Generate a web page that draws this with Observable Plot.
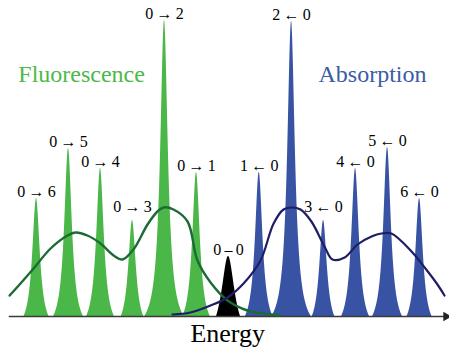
<!DOCTYPE html>
<html>
<head>
<meta charset="utf-8">
<script src="https://cdn.jsdelivr.net/npm/d3@7"></script>
<script src="https://cdn.jsdelivr.net/npm/@observablehq/plot@0.6"></script>
<style>
  body { margin: 0; background: #fff; }
  svg text { font-family: 'Liberation Serif', 'DejaVu Serif', serif; }
</style>
</head>
<body>
<div id="chart"></div>
<script>
// ---- data (energy in vibrational-spacing units, intensity arbitrary) ----
const fluorLabels    = ["0\u2009→\u20091", "0\u2009→\u20092", "0\u2009→\u20093", "0\u2009→\u20094", "0\u2009→\u20095", "0\u2009→\u20096"];
const fluorPositions = [-1, -2, -3, -4, -5, -6];
const fluorHeights   = [144, 296, 96, 148, 168, 118];

const originLabels    = ["0\u2009–\u20090"];
const originPositions = [0];
const originHeights   = [60];

const absLabels    = ["1\u2009←\u20090", "2\u2009←\u20090", "3\u2009←\u20090", "4\u2009←\u20090", "5\u2009←\u20090", "6\u2009←\u20090"];
const absPositions = [0.96, 1.97, 2.97, 3.97, 4.97, 5.97];
const absHeights   = [144, 295, 96, 148, 169, 118];

const fluorEnvX = [-6.84, -6.5, -6.09, -5.56, -5.03, -4.78, -4.41, -4.0, -3.59, -3.31, -2.97, -2.53, -2.22, -2.03, -1.72, -1.28, -0.97, -0.56, -0.03, 0.59, 1.09, 1.63];
const fluorEnvY = [21, 33, 48, 68, 81, 84, 81, 73, 61, 57, 67, 92, 105, 109, 107, 95, 56, 34, 16, 6, 3, 1];

const absEnvX = [-1.75, -1.19, -0.56, -0.03, 0.47, 1.0, 1.41, 1.72, 1.97, 2.25, 2.59, 3.0, 3.25, 3.63, 4.03, 4.47, 4.78, 5.09, 5.72, 6.13, 6.53, 6.75];
const absEnvY = [2, 4, 11, 19, 33, 56, 93, 107, 109, 107, 95, 70, 57, 59, 72, 80, 83, 83, 65, 49, 32, 21];

const xDomain = [-6.85, 6.8];

// ---- build tables ----
const toPeaks = (series, labels, pos, h) =>
  labels.map((label, i) => ({series, label, pos: pos[i], height: h[i], id: series + i, order: i}));
const peaks = [
  ...toPeaks("fluor", fluorLabels, fluorPositions, fluorHeights),
  ...toPeaks("origin", originLabels, originPositions, originHeights),
  ...toPeaks("abs", absLabels, absPositions, absHeights)
];

// truncated Lorentzian line shape
function profile(p, g, c) {
  const B = p.height + c;
  const w = g * Math.sqrt(B / c - 1);
  const out = [];
  const n = 160;
  for (let k = 0; k <= n; k++) {
    const t = -1 + 2 * k / n;
    const d = w * Math.sign(t) * Math.pow(Math.abs(t), 1.6);
    const h = Math.max(0, B * g * g / (d * d + g * g) - c);
    out.push({id: p.id, series: p.series, u: p.pos + d, h});
  }
  return out;
}
const samples = peaks.flatMap(p =>
  p.series === "origin" ? profile(p, 8 / 32, 26.7) : profile(p, 4.6 / 32, 16));

const fluorEnv = fluorEnvX.map((u, i) => ({u, h: fluorEnvY[i]}));
const absEnv = absEnvX.map((u, i) => ({u, h: absEnvY[i]}));

const serif = "'Liberation Serif', 'DejaVu Serif', serif";
const GREEN = "#4ab748", BLUE = "#3953a4";

const chart = Plot.plot({
  width: 449,
  height: 348,
  marginLeft: 8.8,
  marginRight: 3.4,
  marginTop: 16,
  marginBottom: 32,
  style: {background: "#fff", fontFamily: serif},
  x: {domain: xDomain, axis: null},
  y: {domain: [0, 300], axis: null},
  marks: [
    Plot.areaY(samples.filter(d => d.series === "fluor"), {x: "u", y: "h", z: "id", fill: GREEN}),
    Plot.areaY(samples.filter(d => d.series === "abs"), {x: "u", y: "h", z: "id", fill: BLUE}),
    Plot.areaY(samples.filter(d => d.series === "origin"), {x: "u", y: "h", z: "id", fill: "#000"}),
    Plot.ruleY([0], {stroke: "#3a3a3a", strokeWidth: 1.6}),
    Plot.dot([xDomain[1]], {x: d => d, y: 0, symbol: "triangle", r: 3.6, rotate: 90, fill: "#222", stroke: "none"}),
    Plot.line(fluorEnv, {x: "u", y: "h", curve: "catmull-rom", stroke: "#1c6b35", strokeWidth: 2.4}),
    Plot.line(absEnv, {x: "u", y: "h", curve: "catmull-rom", stroke: "#1f1d66", strokeWidth: 2.2}),
    Plot.text(peaks.filter(p => p.order !== 2 || p.series === "origin"), {
      x: "pos", y: "height", text: "label", dy: -2, lineAnchor: "bottom",
      fontSize: 16, fontFamily: serif, fill: "#000"
    }),
    Plot.text(peaks.filter(p => p.order === 2 && p.series !== "origin"), {
      x: "pos", y: "height", text: "label", dy: -9, lineAnchor: "bottom",
      fontSize: 16, fontFamily: serif, fill: "#000"
    }),
    Plot.text(["Fluorescence"], {
      frameAnchor: "top-left", dx: 9, dy: 65.5, lineAnchor: "bottom", textAnchor: "start",
      fontSize: 24, fontFamily: serif, fill: "#4db84a"
    }),
    Plot.text(["Absorption"], {
      frameAnchor: "top-right", dx: -19.6, dy: 65.5, lineAnchor: "bottom", textAnchor: "end",
      fontSize: 24, fontFamily: serif, fill: "#3b5ba3"
    }),
    Plot.text(["Energy"], {
      frameAnchor: "bottom", dy: 25.7, lineAnchor: "bottom",
      fontSize: 26, fontFamily: serif, fill: "#000"
    })
  ]
});
document.getElementById("chart").appendChild(chart);
</script>
</body>
</html>
